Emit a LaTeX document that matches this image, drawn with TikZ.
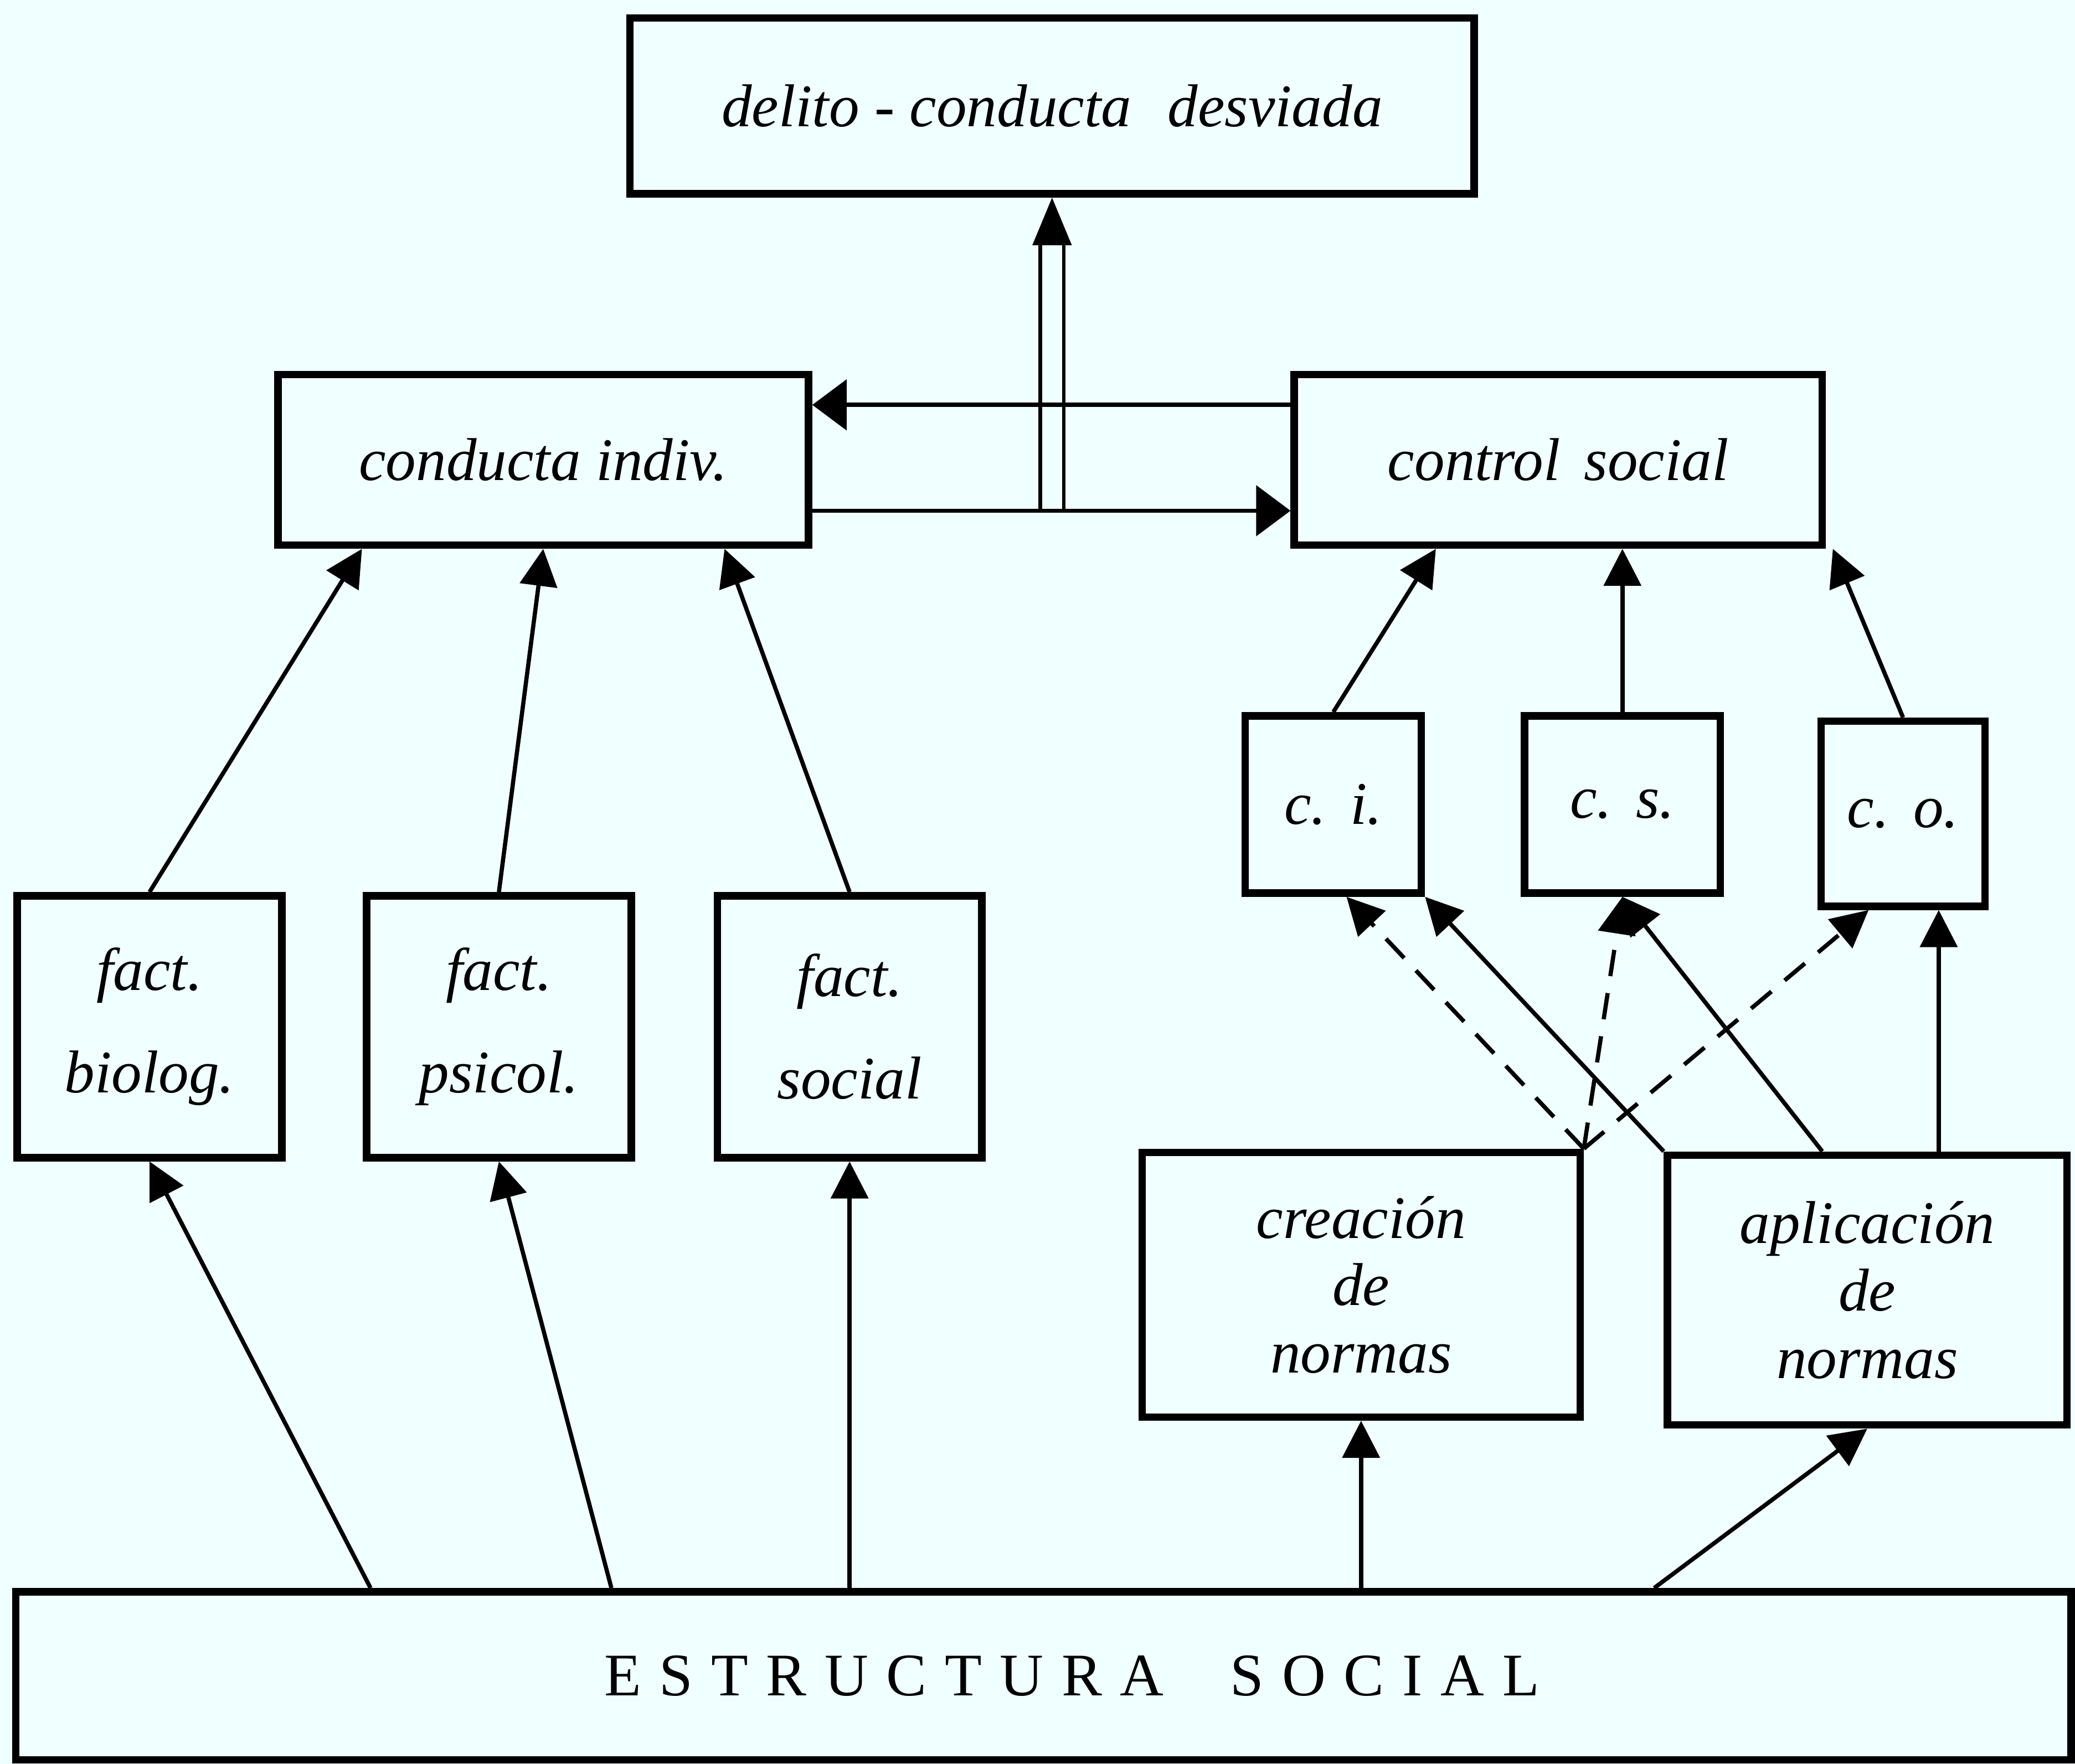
\documentclass[tikz,border=0pt]{standalone}
\usepackage{fontspec}
\setmainfont{Liberation Serif}
\usepackage{tikz}
\usetikzlibrary{arrows.meta, calc}
\definecolor{bgpaper}{RGB}{240,255,255}
\tikzstyle{component} = [rectangle, draw, line width=1.6pt, inner sep=0pt,
    align=center, font=\fontsize{13}{16}\selectfont\itshape]
\tikzstyle{line} = [draw, line width=0.9pt, -{Triangle[length=2.8mm, width=2.8mm]}]

\begin{document}
\begin{tikzpicture}[node distance = 2.65cm,
    factBox/.style={minimum width=2cm, minimum height=1.98cm,
        font=\fontsize{13}{22}\selectfont\itshape},
    cBox/.style={minimum height=1.34cm},
    normBox/.style={minimum height=2cm,
        font=\fontsize{13}{14.5}\selectfont\itshape},
    dashedline/.style={line, dash pattern=on 2mm off 1.3mm}
    ]

    \fill[bgpaper] (0,0) rectangle (15.68,-13.33);
    \useasboundingbox (0,0) rectangle (15.68,-13.33);

    \node[component, minimum width=6.38cm, minimum height=1.33cm] (delito) at (7.95,-0.80)
        {delito - conducta\hspace{0.6em}desviada};
    \node[component, minimum width=4.01cm, minimum height=1.29cm] (conducta) at (4.105,-3.475)
        {conducta indiv.};
    \node[component, minimum width=3.99cm, minimum height=1.29cm, right of=conducta,
        node distance=7.67cm] (control) {control\hspace{0.4em}social};

    \node[component, factBox] (biolog) at (1.13,-7.76) {fact.\\biolog.};
    \node[component, factBox, right of=biolog, node distance=2.64cm] (psicol) {fact.\\psicol.};
    \node[component, factBox, right of=psicol] (social) {fact.\\social};

    \node[component, cBox, minimum width=1.33cm] (ci) at (10.075,-6.08) {c.\hspace{0.4em}i.};
    \node[component, cBox, minimum width=1.48cm, right of=ci, node distance=2.185cm] (cs)
        {c.\hspace{0.4em}s.};
    \node[component, cBox, minimum width=1.24cm, minimum height=1.40cm] (co) at (14.38,-6.15)
        {c.\hspace{0.4em}o.};

    \node[component, normBox, minimum width=3.31cm] (creacion) at (10.285,-9.71)
        {creación\\de\\normas};
    \node[component, normBox, minimum width=3.02cm, minimum height=2.04cm] (aplic) at (14.11,-9.75)
        {aplicación\\de\\normas};

    \node[component, minimum width=15.53cm, minimum height=1.27cm,
        font=\fontsize{13}{16}\selectfont] (estructura) at (7.885,-12.665)
        {\hspace*{0.43cm}\addfontfeature{LetterSpace=30}ESTRUCTURA\hspace{1.1em}SOCIAL};

    % double arrow up to delito
    \coordinate (fork) at ([yshift=-3.85mm]conducta.east -| delito.south);
    \draw[double=bgpaper, double distance=1.5mm, line width=0.8pt, shorten >=3.4mm]
        (fork) -- (delito.south);
    \draw[line, -{Triangle[length=3.6mm, width=2.9mm]}] ([yshift=-3.6mm]delito.south) -- (delito.south);

    \draw[line, -{Triangle[length=2.6mm, width=3.8mm]}] ([yshift=-3.85mm]conducta.east) --
        ([yshift=-3.85mm]conducta.east -| control.west);
    \draw[line, -{Triangle[length=2.6mm, width=3.8mm]}] ([yshift=4.15mm]conducta.east -| control.west) --
        ([yshift=4.15mm]conducta.east);

    % factors
    \draw[line] (biolog.north) -- ([xshift=-13.7mm]conducta.south);
    \draw[line] (psicol.north) -- (conducta.south);
    \draw[line] (social.north) -- ([xshift=13.7mm]conducta.south);

    \draw[line] ([xshift=-50.85mm]estructura.north) -- (biolog.south);
    \draw[line] ([xshift=-32.65mm]estructura.north) -- (psicol.south);
    \draw[line] (estructura.north -| social.south) -- (social.south);
    \draw[line] (estructura.north -| creacion.south) -- (creacion.south);
    \draw[line] ([xshift=46.15mm]estructura.north) -- (aplic.south);

    % control
    \draw[line] (ci.north) -- ([xshift=-9.25mm]control.south);
    \draw[line] (cs.north) -- (cs.north |- control.south);
    \draw[line] (co.north) -- ([xshift=20.75mm]control.south);

    \draw[dashedline] (creacion.north east) -- ([xshift=1mm]ci.south);
    \draw[dashedline] (creacion.north east) -- (cs.south);
    \draw[dashedline] (creacion.north east) -- ([xshift=-2.6mm]co.south);

    \draw[line] (aplic.north west) -- (ci.south east);
    \draw[line] ([xshift=-3.4mm]aplic.north) -- (cs.south);
    \draw[line] ([xshift=5.4mm]aplic.north) -- ([xshift=5.4mm]aplic.north |- co.south);
\end{tikzpicture}
\end{document}
